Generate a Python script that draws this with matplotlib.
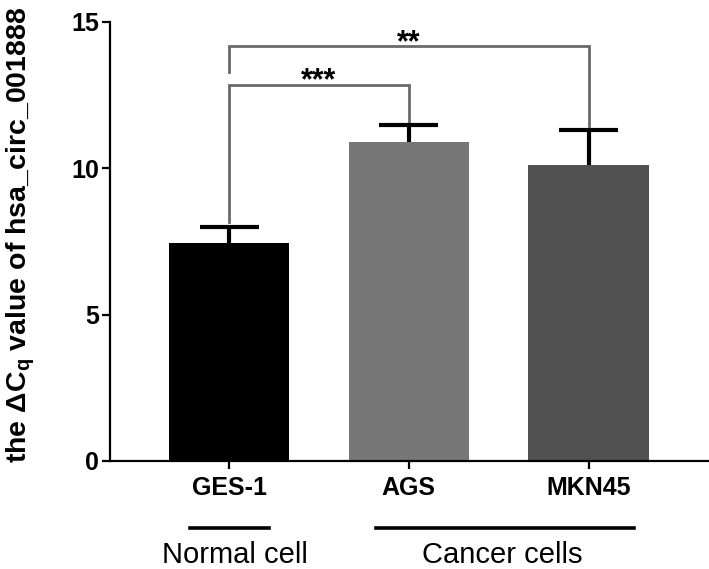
import matplotlib
matplotlib.use("Agg")
import matplotlib.pyplot as plt

plt.rcParams['font.family'] = ['Liberation Sans', 'DejaVu Sans']

categories = ["GES-1", "AGS", "MKN45"]
values = [7.45, 10.9, 10.1]
errors = [0.55, 0.58, 1.22]
colors = ["#000000", "#777777", "#515151"]
yticks = [0, 5, 10, 15]
groups = ["Normal cell", "Cancer cells"]
# (left bar, right bar, label, bracket height, left drop end, right drop end)
comparisons = [(0, 1, "***", 12.86, 8.15, 11.58), (0, 2, "**", 14.16, 13.3, 11.45)]

fig = plt.figure(figsize=(7.09, 5.69), dpi=100)
ax = fig.add_axes([0.155, 0.190, 0.845, 0.7715])
x = list(range(len(categories)))
ax.bar(x, values, width=0.67, color=colors, zorder=2)
tops = [v + e for v, e in zip(values, errors)]
ax.vlines(x, values, tops, color='black', lw=3, zorder=3)
ax.hlines(tops, [xi - 0.164 for xi in x], [xi + 0.164 for xi in x], color='black', lw=3, zorder=3)

ax.set_xlim(-0.663, 2.67)
ax.set_ylim(0, 15)
ax.set_yticks(yticks)
ax.set_xticks(x)
ax.set_xticklabels(categories, fontweight='bold', fontsize=18)
ax.set_yticklabels([str(t) for t in yticks], fontweight='bold', fontsize=18)
for s in ['top', 'right']:
    ax.spines[s].set_visible(False)
for s in ['left', 'bottom']:
    ax.spines[s].set_linewidth(1.6)
ax.tick_params(axis='both', width=1.6, length=6, direction='out')
ax.tick_params(axis='x', pad=5)
ax.tick_params(axis='y', pad=2)

ax.set_ylabel("the \u0394C$_\\mathregular{q}$ value of hsa_circ_001888",
              fontweight='bold', fontsize=20.5)
ax.yaxis.set_label_coords(-0.122, 0.515)

for i, j, lab, h, yl, yr in comparisons:
    ax.plot([i, i, j, j], [yl, h, h, yr], color='#6a6a6a', lw=2.0, zorder=1,
            solid_joinstyle='miter')
    ax.text((i + j) / 2, h - 0.17, lab, ha='center', va='baseline',
            fontsize=22, fontweight='bold')

tr = ax.get_xaxis_transform()
ax.plot([-0.22, 0.22], [-0.153, -0.153], color='black', lw=2.6, transform=tr, clip_on=False)
ax.plot([0.82, 2.25], [-0.153, -0.153], color='black', lw=2.6, transform=tr, clip_on=False)
ax.text(0.03, -0.2323, groups[0], ha='center', va='baseline', fontsize=21, transform=tr)
ax.text(1.52, -0.2323, groups[1], ha='center', va='baseline', fontsize=21, transform=tr)

fig.savefig("out.png", dpi=100)
